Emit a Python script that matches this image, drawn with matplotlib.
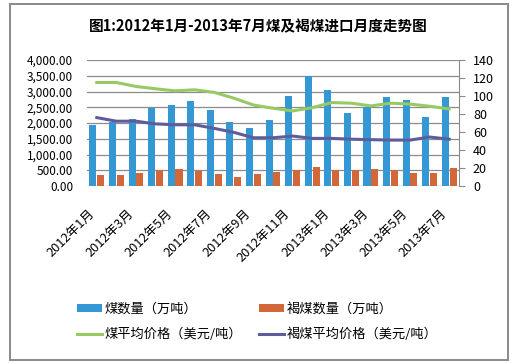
import matplotlib
matplotlib.use("Agg")
import matplotlib.pyplot as plt
import matplotlib.ticker as ticker
from matplotlib.patches import Rectangle

plt.rcParams['font.family'] = ['Noto Sans CJK SC', 'DejaVu Sans']

# data
months = ['2012年1月', '2012年2月', '2012年3月', '2012年4月', '2012年5月', '2012年6月',
          '2012年7月', '2012年8月', '2012年9月', '2012年10月', '2012年11月', '2012年12月',
          '2013年1月', '2013年2月', '2013年3月', '2013年4月', '2013年5月', '2013年6月',
          '2013年7月']
coal_qty = [1936, 2043, 2128, 2489, 2574, 2702, 2415, 2032, 1840, 2096,
            2862, 3489, 3053, 2319, 2521, 2830, 2734, 2191, 2830]
lignite_qty = [340, 340, 415, 500, 532, 468, 372, 277, 372, 436,
               500, 596, 500, 500, 532, 500, 415, 415, 564]
coal_price = [115, 115, 110.6, 108, 105.7, 106.9, 104, 97.6, 90, 86.4,
              83.4, 87, 92.7, 92, 89, 92, 91, 88.6, 85.6]
lignite_price = [76, 72, 72, 69, 68, 68, 64, 59.6, 53.6, 53.6,
                 55.5, 52.9, 52.9, 52, 51.5, 51, 51, 54.4, 52]

title = '图1:2012年1月-2013年7月煤及褐煤进口月度走势图'
names = ['煤数量（万吨）', '褐煤数量（万吨）', '煤平均价格（美元/吨）', '褐煤平均价格（美元/吨）']

c_blue = '#3398D3'
c_orange = '#D2683A'
c_green = '#98CA63'
c_purple = '#5F5C9C'
c_grid = '#8C8C8C'

W, H = 517, 364
fig = plt.figure(figsize=(W / 100, H / 100), dpi=100)
fig.patch.set_facecolor('white')

# outer frame
fig.patches.append(Rectangle((10 / W, 4 / H), 498 / W, 356 / H, transform=fig.transFigure,
                             fill=False, edgecolor='#8A8A8A', linewidth=1.4))

fig.text(258 / W, 1 - 26 / H, title, ha='center', va='center', fontsize=10.5, fontweight='bold')

ax = fig.add_axes([87 / W, 1 - 186 / H, 372 / W, 126 / H])
x = list(range(len(months)))
bw = 0.36
ax.bar([i - 0.2 for i in x], coal_qty, width=bw, color=c_blue, zorder=3, label=names[0])
ax.bar([i + 0.2 for i in x], lignite_qty, width=bw, color=c_orange, zorder=3, label=names[1])
ax.set_xlim(-0.5, len(months) - 0.5)
ax.set_ylim(0, 4000)
ax.set_yticks(range(0, 4001, 500))
ax.yaxis.set_major_formatter(ticker.FuncFormatter(lambda v, p: '{:,.2f}'.format(v)))
ax.yaxis.grid(True, color=c_grid, linewidth=0.9, zorder=0)
ax.set_axisbelow(True)
for s in ['left', 'top', 'right', 'bottom']:
    ax.spines[s].set_visible(False)
ax.tick_params(axis='y', length=0, pad=10, labelsize=8.5)
ax.set_xticks(x[::2])
ax.set_xticklabels(months[::2], rotation=45, ha='right', fontsize=9.2)
ax.tick_params(axis='x', length=0, pad=15)

ax2 = ax.twinx()
ax2.plot(x, coal_price, color=c_green, linewidth=2.2, solid_joinstyle='round', label=names[2])
ax2.plot(x, lignite_price, color=c_purple, linewidth=2.2, solid_joinstyle='round', label=names[3])
ax2.set_ylim(0, 140)
ax2.set_yticks(range(0, 141, 20))
for s in ['left', 'top', 'bottom']:
    ax2.spines[s].set_visible(False)
ax2.spines['right'].set_color(c_grid)
ax2.tick_params(axis='y', length=4, color=c_grid, pad=6, labelsize=9)

h1, l1 = ax.get_legend_handles_labels()
h2, l2 = ax2.get_legend_handles_labels()
handles = [h1[0], h2[0], h1[1], h2[1]]
labels = [l1[0], l2[0], l1[1], l2[1]]
fig.legend(handles, labels, ncol=2, loc='upper left', bbox_to_anchor=(70 / W, 1 - 296 / H),
           frameon=False, fontsize=9.5, handlelength=1.9, handleheight=0.5,
           handletextpad=0.2, columnspacing=1.3, labelspacing=0.9, borderpad=0)

fig.savefig('out.png', dpi=100)
